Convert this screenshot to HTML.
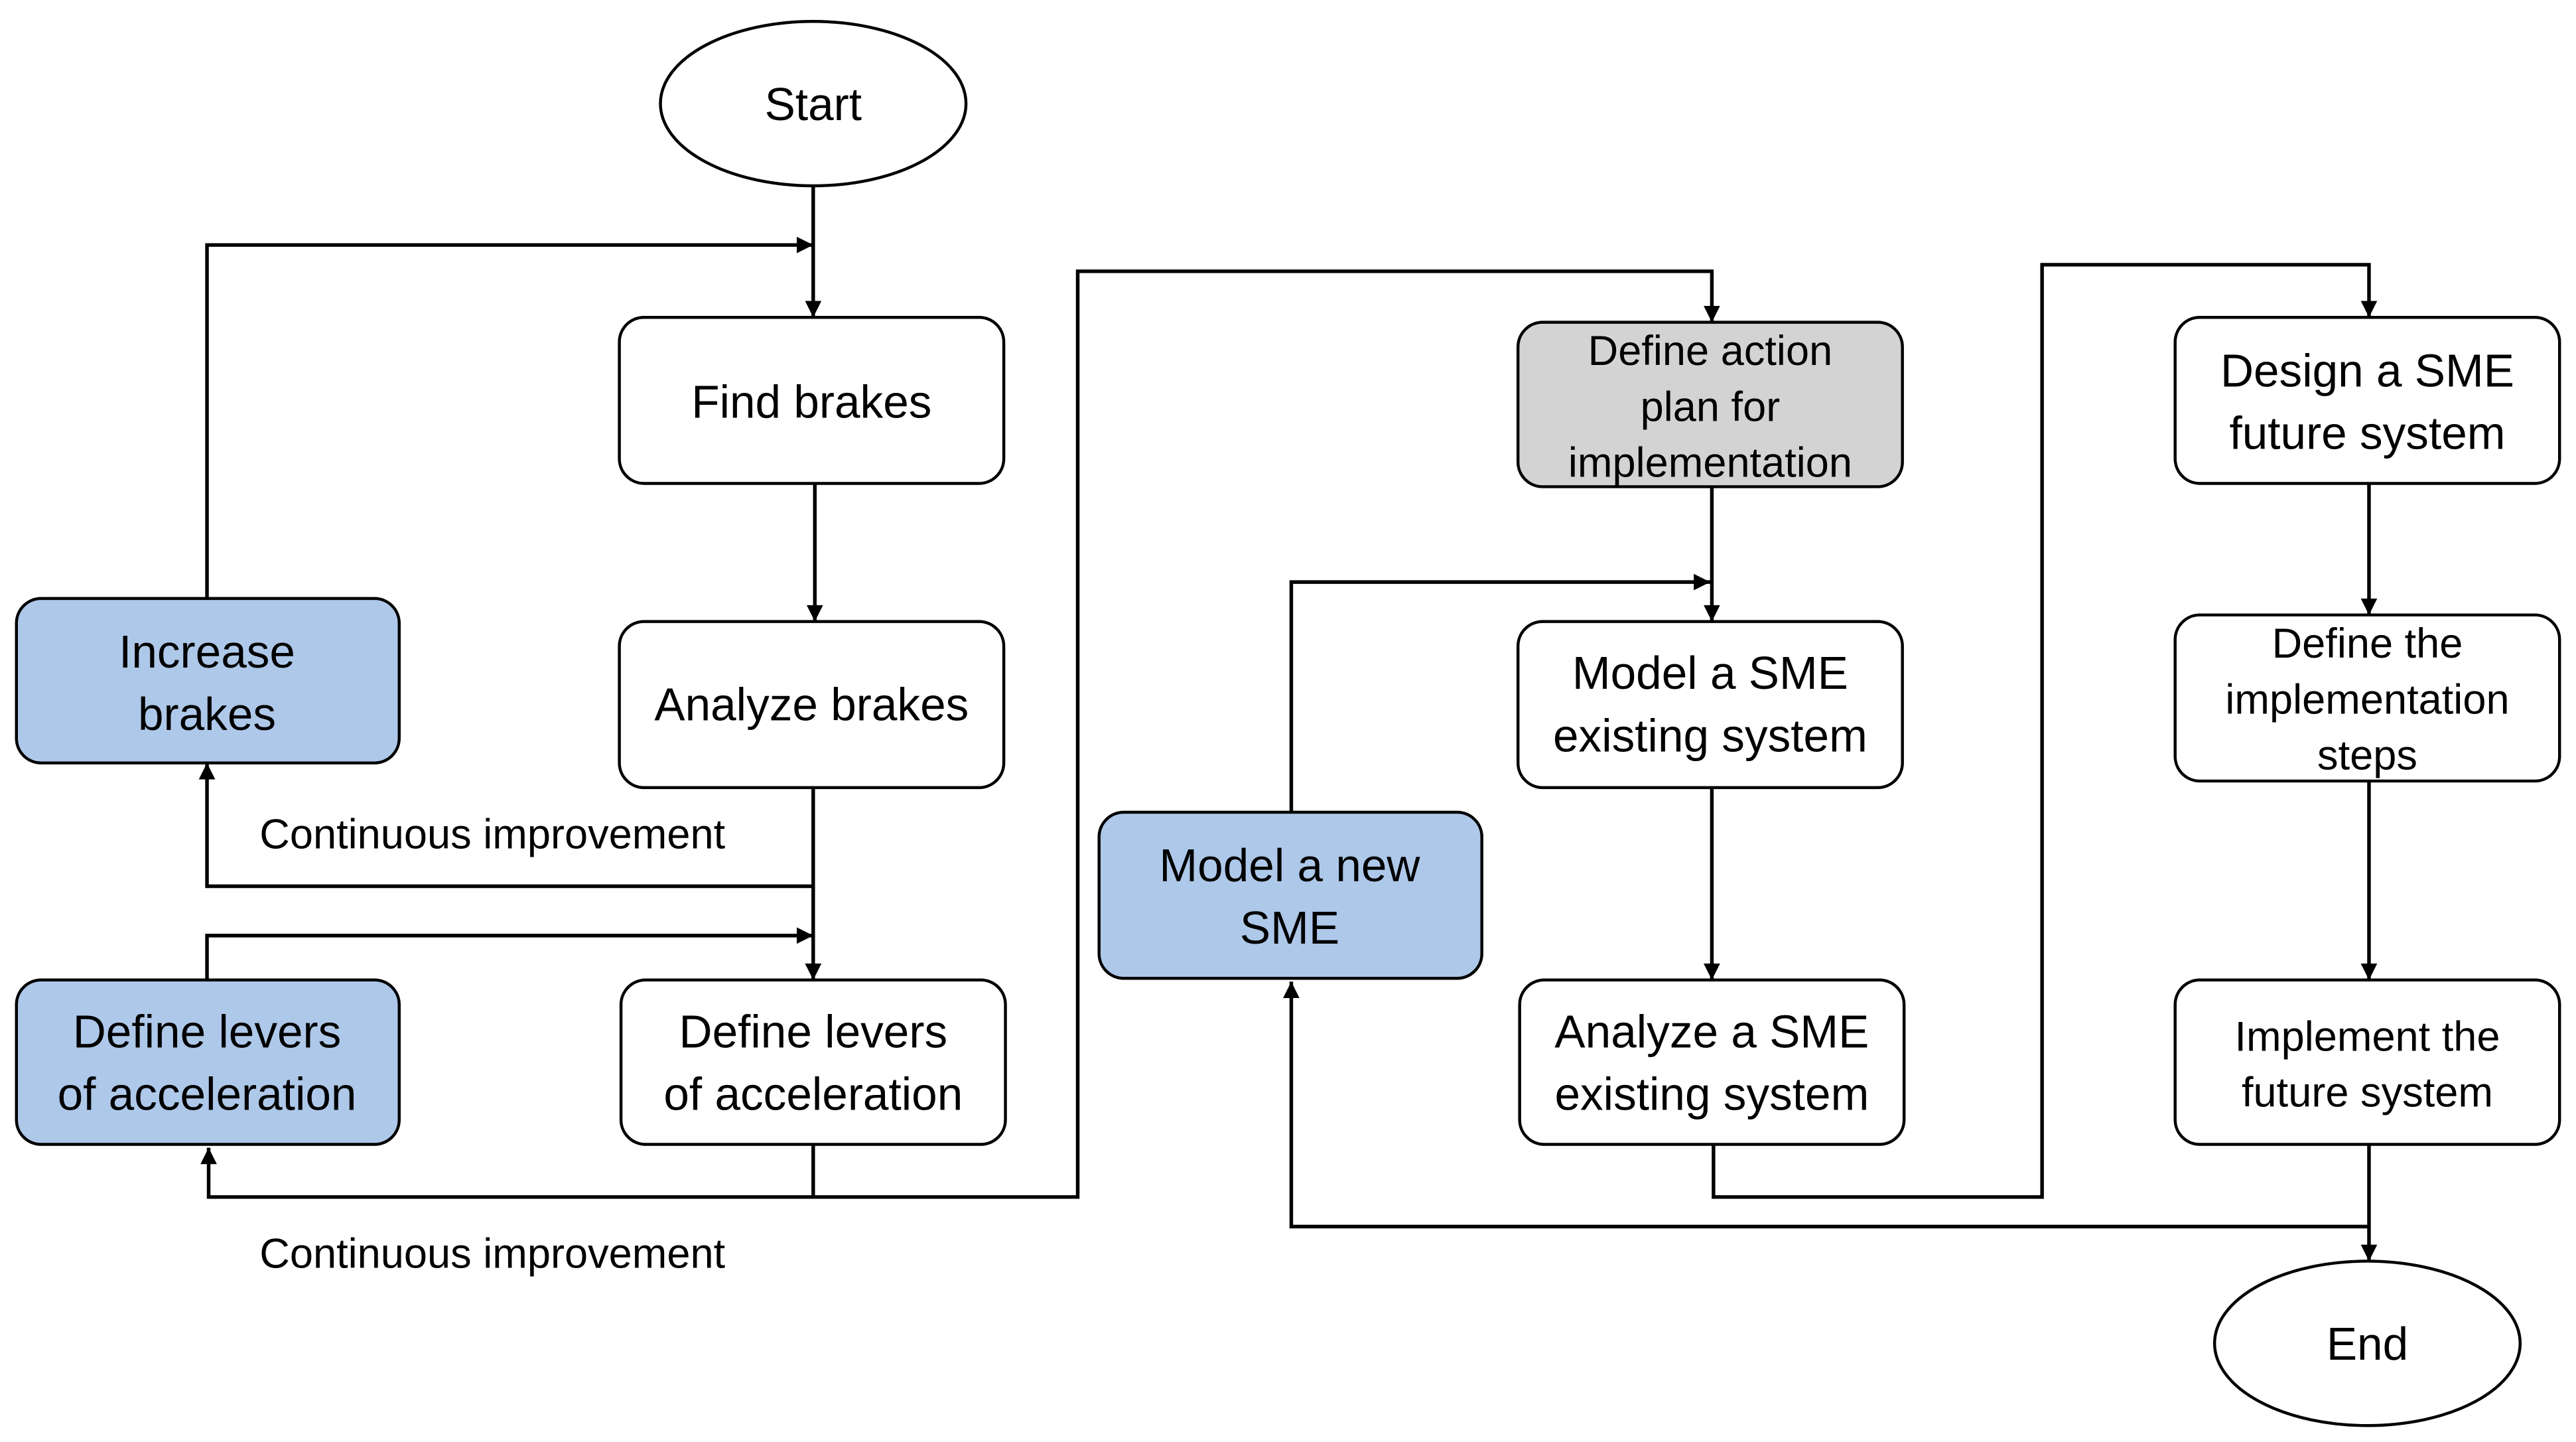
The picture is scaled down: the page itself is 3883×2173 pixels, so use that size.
<!DOCTYPE html>
<html><head><meta charset="utf-8"><style>
html,body{margin:0;padding:0;background:#fff;}
svg{display:block;}
text{font-family:"Liberation Sans",sans-serif;fill:#000;}
</style></head><body>
<svg width="3883" height="2173" viewBox="0 0 1568 877" preserveAspectRatio="none" xmlns="http://www.w3.org/2000/svg">
<defs>
<marker id="b" viewBox="0 0 10 10" refX="10" refY="5" markerWidth="10" markerHeight="10" orient="auto" markerUnits="userSpaceOnUse">
<path d="M0,0 L10,5 L0,10 z" fill="#000"/></marker>
</defs>
<g fill="none" stroke="#000" stroke-width="2.2">
<path d="M495,113 V193" marker-end="url(#b)"/>
<path d="M126,364 V149 H495" marker-end="url(#b)"/>
<path d="M496,294 V378" marker-end="url(#b)"/>
<path d="M495,479 V596" marker-end="url(#b)"/>
<path d="M495,539 H126 V464" marker-end="url(#b)"/>
<path d="M126,596 V569 H495" marker-end="url(#b)"/>
<path d="M495,696 V728 H127 V698" marker-end="url(#b)"/>
<path d="M495,728 H656 V165 H1042 V196" marker-end="url(#b)"/>
<path d="M1042,296 V378" marker-end="url(#b)"/>
<path d="M786,494 V354 H1041" marker-end="url(#b)"/>
<path d="M1042,479 V596" marker-end="url(#b)"/>
<path d="M1043,696 V728 H1243 V161 H1442 V193" marker-end="url(#b)"/>
<path d="M1442,294 V374" marker-end="url(#b)"/>
<path d="M1442,475 V596" marker-end="url(#b)"/>
<path d="M1442,696 V767" marker-end="url(#b)"/>
<path d="M1442,746 H786 V597" marker-end="url(#b)"/>
</g>
<g stroke="#000" stroke-width="1.8">
<ellipse cx="495" cy="63" rx="93" ry="50" fill="#fff"/>
<ellipse cx="1441" cy="817" rx="93" ry="50" fill="#fff"/>
<rect x="377" y="193" width="234" height="101" rx="15" fill="#fff"/>
<rect x="377" y="378" width="234" height="101" rx="15" fill="#fff"/>
<rect x="10" y="364" width="233" height="100" rx="15" fill="#aec8e9"/>
<rect x="10" y="596" width="233" height="100" rx="15" fill="#aec8e9"/>
<rect x="378" y="596" width="234" height="100" rx="15" fill="#fff"/>
<rect x="669" y="494" width="233" height="101" rx="15" fill="#aec8e9"/>
<rect x="924" y="196" width="234" height="100" rx="15" fill="#d3d3d3"/>
<rect x="924" y="378" width="234" height="101" rx="15" fill="#fff"/>
<rect x="925" y="596" width="234" height="100" rx="15" fill="#fff"/>
<rect x="1324" y="193" width="234" height="101" rx="15" fill="#fff"/>
<rect x="1324" y="374" width="234" height="101" rx="15" fill="#fff"/>
<rect x="1324" y="596" width="234" height="100" rx="15" fill="#fff"/>
</g>
<g text-anchor="middle" font-size="28">
<text x="495" y="73">Start</text>
<text x="1441" y="827">End</text>
<text x="494" y="254">Find brakes</text>
<text x="494" y="438">Analyze brakes</text>
<text x="126" y="406">Increase</text><text x="126" y="444">brakes</text>
<text x="126" y="637">Define levers</text><text x="126" y="675">of acceleration</text>
<text x="495" y="637">Define levers</text><text x="495" y="675">of acceleration</text>
<text x="785" y="536">Model a new</text><text x="785" y="574">SME</text>
<text x="1041" y="419">Model a SME</text><text x="1041" y="457">existing system</text>
<text x="1042" y="637">Analyze a SME</text><text x="1042" y="675">existing system</text>
<text x="1441" y="235">Design a SME</text><text x="1441" y="273">future system</text>
</g>
<g text-anchor="middle" font-size="25.5">
<text x="1041" y="222">Define action</text><text x="1041" y="256">plan for</text><text x="1041" y="290">implementation</text>
<text x="1441" y="400">Define the</text><text x="1441" y="434">implementation</text><text x="1441" y="468">steps</text>
<text x="1441" y="639">Implement the</text><text x="1441" y="673">future system</text>
</g>
<g font-size="25.5">
<text x="158" y="516">Continuous improvement</text>
<text x="158" y="771">Continuous improvement</text>
</g>
</svg>
</body></html>
